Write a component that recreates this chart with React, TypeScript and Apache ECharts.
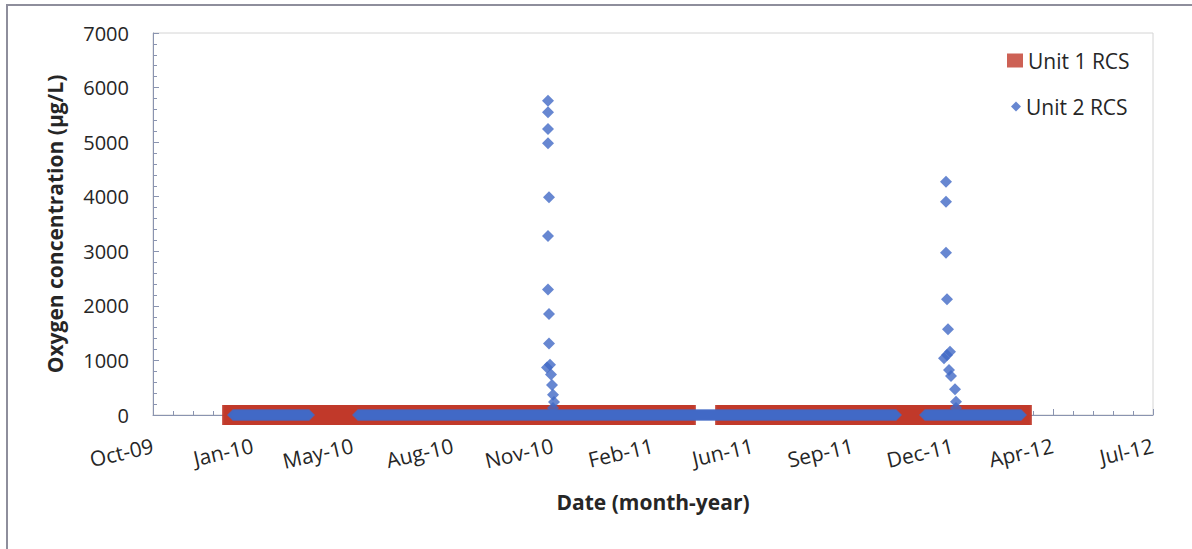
import React, { useEffect, useRef } from "react";
import * as echarts from "echarts";

// ---- Data ----
// Sampling periods during which Unit 1 RCS oxygen was at 0 µg/L (daily samples)
const unit1Periods: [string, string][] = [
  ["2010-01-01", "2011-03-31"],
  ["2011-05-09", "2012-03-01"],
];
const unit1PeriodValue = 0;

// Sampling periods during which Unit 2 RCS oxygen was at 0 µg/L (daily samples)
const unit2Periods: [string, string][] = [
  ["2010-01-02", "2010-03-19"],
  ["2010-05-07", "2011-10-27"],
  ["2011-11-25", "2012-02-29"],
];
const unit2PeriodValue = 0;

// Unit 2 RCS oxygen spikes (start-up transients)
const unit2SpikeDates = [
  "2010-11-13", "2010-11-13", "2010-11-13", "2010-11-13", "2010-11-14", "2010-11-13",
  "2010-11-13", "2010-11-14", "2010-11-14", "2010-11-12", "2010-11-15", "2010-11-16",
  "2010-11-17", "2010-11-18", "2010-11-19", "2010-11-18",
  "2011-12-16", "2011-12-16", "2011-12-16", "2011-12-17", "2011-12-18", "2011-12-20",
  "2011-12-17", "2011-12-14", "2011-12-19", "2011-12-21", "2011-12-25", "2011-12-26",
  "2011-12-26",
];
const unit2SpikeValues = [
  5760, 5550, 5240, 4980, 3990, 3280,
  2300, 1850, 1310, 870, 920, 740,
  550, 370, 240, 130,
  4275, 3910, 2975, 2120, 1570, 1160,
  1100, 1040, 825, 715, 470, 245,
  130,
];

// Axis settings (Excel serial day numbers)
const xMin = 40100;
const xMax = 41100;
const xInterval = 100;
const yMin = 0;
const yMax = 7000;
const yInterval = 1000;

const MONTHS = ["Jan", "Feb", "Mar", "Apr", "May", "Jun", "Jul", "Aug", "Sep", "Oct", "Nov", "Dec"];
const EXCEL_EPOCH = Date.UTC(1899, 11, 30);
const DAY = 86400000;

function toSerial(s: string): number {
  const [y, m, d] = s.split("-").map(Number);
  return Math.round((Date.UTC(y, m - 1, d) - EXCEL_EPOCH) / DAY);
}
function fmtSerial(v: number): string {
  const dt = new Date(EXCEL_EPOCH + Math.round(v) * DAY);
  return MONTHS[dt.getUTCMonth()] + "-" + String(dt.getUTCFullYear() % 100).padStart(2, "0");
}
function dailyPoints(periods: [string, string][], value: number): number[][] {
  const out: number[][] = [];
  for (const [a, b] of periods) {
    for (let s = toSerial(a); s <= toSerial(b); s++) out.push([s, value]);
  }
  return out;
}

const FONT = "Open Sans";
const TEXT = "#262626";
const AXIS = "#8a94b0";

export default function App() {
  const ref = useRef<HTMLDivElement>(null);
  useEffect(() => {
    if (!ref.current) return;
    const chart = echarts.init(ref.current, undefined, { renderer: "svg" });
    const unit1 = dailyPoints(unit1Periods, unit1PeriodValue);
    const unit2 = dailyPoints(unit2Periods, unit2PeriodValue).concat(
      unit2SpikeDates.map((d, i) => [toSerial(d), unit2SpikeValues[i]])
    );
    chart.setOption({
      animation: false,
      backgroundColor: "#ffffff",
      textStyle: { fontFamily: FONT },
      graphic: [
        {
          type: "rect",
          shape: { x: 7, y: 5, width: 1300, height: 700 },
          style: { fill: "none", stroke: "#8e8e9c", lineWidth: 2 },
          silent: true,
        },
      ],
      grid: {
        left: 153,
        right: 39,
        top: 33,
        bottom: 134,
        show: true,
        borderColor: "#d4d4d4",
        borderWidth: 1,
      },
      legend: [
        {
          data: ["Unit 1 RCS"],
          left: 1007,
          top: 50,
          padding: 0,
          itemWidth: 16,
          itemHeight: 14,
          itemGap: 0,
          icon: "rect",
          selectedMode: false,
          textStyle: { fontSize: 21, color: TEXT, fontFamily: FONT },
        },
        {
          data: ["Unit 2 RCS"],
          left: 1011,
          top: 96,
          padding: 0,
          itemWidth: 10,
          itemHeight: 10,
          itemGap: 0,
          icon: "diamond",
          selectedMode: false,
          textStyle: { fontSize: 21, color: TEXT, fontFamily: FONT },
        },
      ],
      xAxis: {
        type: "value",
        min: xMin,
        max: xMax,
        interval: xInterval,
        name: "Date (month-year)",
        nameLocation: "middle",
        nameGap: 76,
        nameTextStyle: { fontSize: 21, fontWeight: "bold", color: TEXT, fontFamily: FONT },
        axisLine: { show: true, onZero: false, lineStyle: { color: AXIS, width: 1 } },
        axisTick: { show: true, inside: true, length: 6, lineStyle: { color: AXIS } },
        minorTick: { show: true, splitNumber: 5, length: 4, lineStyle: { color: AXIS } },
        splitLine: { show: false },
        axisLabel: {
          rotate: 13,
          margin: 30,
          fontSize: 21,
          color: TEXT,
          fontFamily: FONT,
          formatter: (v: number) => fmtSerial(v),
        },
      },
      yAxis: {
        type: "value",
        min: yMin,
        max: yMax,
        interval: yInterval,
        name: "Oxygen concentration (µg/L)",
        nameLocation: "middle",
        nameGap: 88,
        nameTextStyle: { fontSize: 21, fontWeight: "bold", color: TEXT, fontFamily: FONT },
        axisLine: { show: true, lineStyle: { color: AXIS, width: 1 } },
        axisTick: { show: true, inside: true, length: 6, lineStyle: { color: AXIS } },
        minorTick: { show: true, splitNumber: 5, length: 4, lineStyle: { color: AXIS } },
        splitLine: { show: false },
        axisLabel: {
          margin: 24,
          fontSize: 20,
          color: TEXT,
          fontFamily: FONT,
          formatter: (v: number) => String(v),
        },
      },
      series: [
        {
          name: "Unit 1 RCS",
          type: "scatter",
          symbol: "rect",
          symbolSize: 20,
          data: unit1,
          itemStyle: { color: "#c0392b" },
          large: false,
          z: 2,
        },
        {
          name: "Unit 2 RCS",
          type: "scatter",
          symbol: "diamond",
          symbolSize: 12,
          data: unit2,
          itemStyle: { color: "#4169c6" },
          large: false,
          z: 3,
        },
      ],
    });
    return () => chart.dispose();
  }, []);
  return (
    <div
      ref={ref}
      style={{ position: "fixed", left: 0, top: 0, width: 1192, height: 549, background: "#fff" }}
    />
  );
}
